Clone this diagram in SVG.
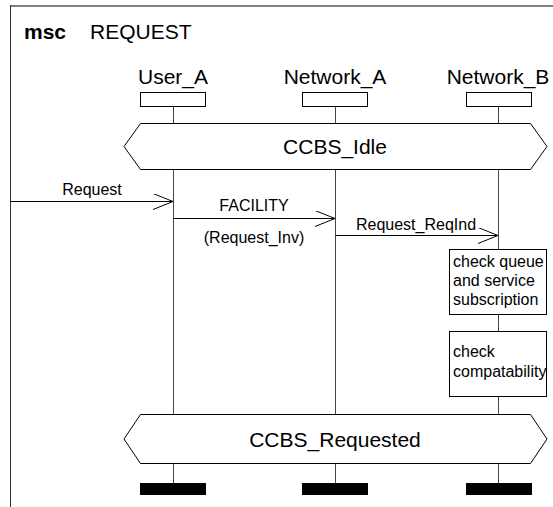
<svg xmlns="http://www.w3.org/2000/svg" width="553" height="507" viewBox="0 0 553 507">
<style>
text{font-family:"Liberation Sans",Arial,sans-serif;fill:#000}
.big{font-size:21px}
.msg{font-size:16px}
.inst{fill:#fff;stroke:#000;stroke-width:1}
.life{stroke:#444;stroke-width:1;fill:none}
.hex{fill:#fff;stroke:#000;stroke-width:1}
.arr{stroke:#000;stroke-width:1;fill:none}
.bar{fill:#000}
</style>
<defs>
<marker id="open" markerWidth="22" markerHeight="18" refX="20" refY="8" orient="auto" markerUnits="userSpaceOnUse">
<path d="M0,0 L20,8 L0,16" fill="none" stroke="#000" stroke-width="1"/>
</marker>
</defs>
<g id="frame">
<line x1="10" y1="6" x2="553" y2="6" stroke="#808080" stroke-width="2"/>
<line x1="10.5" y1="5" x2="10.5" y2="507" stroke="#333" stroke-width="1"/>
<text x="24" y="39" class="big" font-weight="bold" font-size="20">msc</text>
<text x="90" y="39" class="big">REQUEST</text>
</g>
<g id="lifelines">
<path class="life" d="M173.5,107 V123 M173.5,170 V414 M173.5,464 V483"/>
<path class="life" d="M335.5,107 V123 M335.5,170 V414 M335.5,464 V483"/>
<path class="life" d="M498.5,107 V123 M498.5,170 V249 M498.5,315 V331 M498.5,397 V414 M498.5,464 V483"/>
</g>
<g id="User_A">
<text x="173" y="84" class="big" text-anchor="middle">User_A</text>
<rect class="inst" x="140.5" y="92.5" width="65" height="14"/>
<rect class="bar" x="140" y="483" width="66" height="12"/>
</g>
<g id="Network_A">
<text x="335" y="84" class="big" text-anchor="middle">Network_A</text>
<rect class="inst" x="302.5" y="92.5" width="65" height="14"/>
<rect class="bar" x="302" y="483" width="66" height="12"/>
</g>
<g id="Network_B">
<text x="498" y="84" class="big" text-anchor="middle">Network_B</text>
<rect class="inst" x="466.5" y="92.5" width="65" height="14"/>
<rect class="bar" x="466" y="483" width="66" height="12"/>
</g>
<g id="CCBS_Idle">
<polygon class="hex" points="140.5,123.5 530.5,123.5 547,146.5 530.5,169.5 140.5,169.5 124,146.5"/>
<text x="335" y="154" class="big" text-anchor="middle">CCBS_Idle</text>
</g>
<g id="action1">
<rect class="inst" x="449.5" y="249.5" width="97" height="65"/>
<text x="453" y="267" class="msg">check queue</text>
<text x="453" y="286" class="msg">and service</text>
<text x="453" y="305" class="msg">subscription</text>
</g>
<g id="action2">
<rect class="inst" x="449.5" y="331.5" width="97" height="65"/>
<text x="453" y="357" class="msg">check</text>
<text x="453" y="377" class="msg">compatability</text>
</g>
<g id="CCBS_Requested">
<polygon class="hex" points="140.5,414.5 530.5,414.5 547,439 530.5,463.5 140.5,463.5 124,439"/>
<text x="335" y="447" class="big" text-anchor="middle">CCBS_Requested</text>
</g>
<g id="connectors">
<line class="arr" x1="10" y1="201.5" x2="173" y2="201.5" marker-end="url(#open)"/>
<text x="92" y="195" class="msg" text-anchor="middle">Request</text>
<line class="arr" x1="173.5" y1="218.5" x2="335" y2="218.5" marker-end="url(#open)"/>
<text x="254" y="211" class="msg" text-anchor="middle">FACILITY</text>
<text x="254" y="243" class="msg" text-anchor="middle">(Request_Inv)</text>
<line class="arr" x1="335.5" y1="235.5" x2="498" y2="235.5" marker-end="url(#open)"/>
<text x="416" y="230" class="msg" text-anchor="middle">Request_ReqInd</text>
</g>
</svg>
